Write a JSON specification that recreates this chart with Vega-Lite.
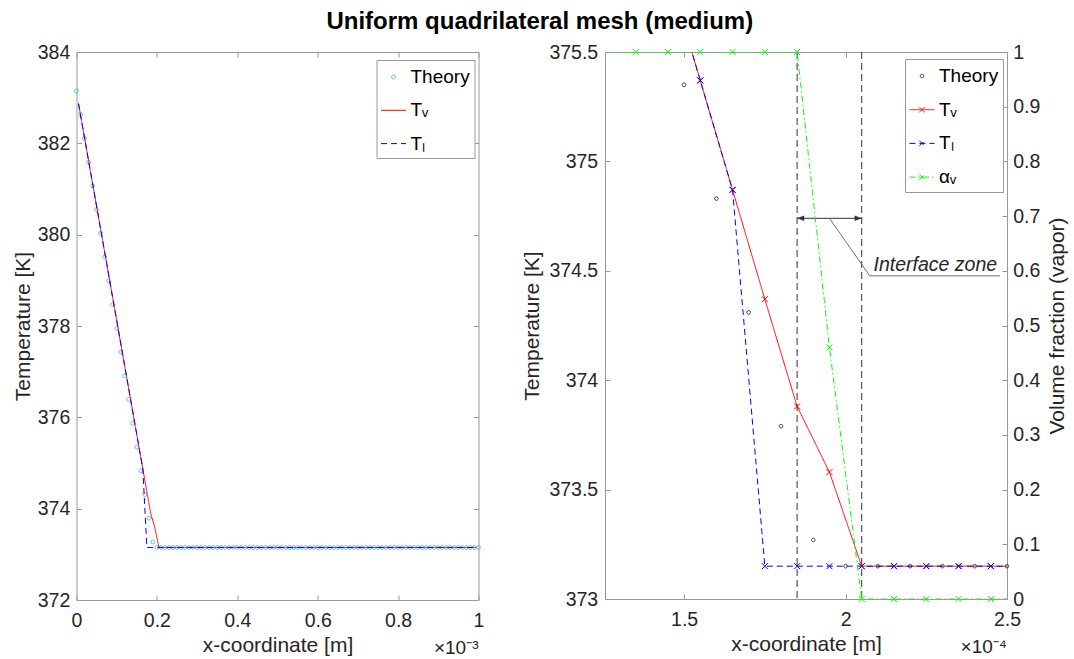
{
  "$schema": "https://vega.github.io/schema/vega-lite/v6.json",
  "padding": {"left": 11.5, "top": 9, "right": 4, "bottom": 4},
  "title": {"text": "Uniform quadrilateral mesh (medium)", "fontSize": 24, "fontWeight": "bold", "font": "Liberation Sans", "color": "#000000", "anchor": "middle", "offset": 8},
  "datasets": {
    "cells": [
      {"x": 0.5e-5, "Tv": 382.87, "Tl": 382.87, "av": 1},
      {"x": 1.5e-5, "Tv": 382.37, "Tl": 382.37, "av": 1},
      {"x": 2.5e-5, "Tv": 381.87, "Tl": 381.87, "av": 1},
      {"x": 3.5e-5, "Tv": 381.37, "Tl": 381.37, "av": 1},
      {"x": 4.5e-5, "Tv": 380.87, "Tl": 380.87, "av": 1},
      {"x": 5.5e-5, "Tv": 380.37, "Tl": 380.37, "av": 1},
      {"x": 6.5e-5, "Tv": 379.87, "Tl": 379.87, "av": 1},
      {"x": 7.5e-5, "Tv": 379.37, "Tl": 379.37, "av": 1},
      {"x": 8.5e-5, "Tv": 378.87, "Tl": 378.87, "av": 1},
      {"x": 9.5e-5, "Tv": 378.37, "Tl": 378.37, "av": 1},
      {"x": 10.5e-5, "Tv": 377.87, "Tl": 377.87, "av": 1},
      {"x": 11.5e-5, "Tv": 377.37, "Tl": 377.37, "av": 1},
      {"x": 12.5e-5, "Tv": 376.87, "Tl": 376.87, "av": 1},
      {"x": 13.5e-5, "Tv": 376.37, "Tl": 376.37, "av": 1},
      {"x": 14.5e-5, "Tv": 375.87, "Tl": 375.87, "av": 1},
      {"x": 15.5e-5, "Tv": 375.37, "Tl": 375.37, "av": 1},
      {"x": 16.5e-5, "Tv": 374.87, "Tl": 374.87, "av": 1},
      {"x": 17.5e-5, "Tv": 374.37, "Tl": 373.15, "av": 1},
      {"x": 18.5e-5, "Tv": 373.88, "Tl": 373.15, "av": 1},
      {"x": 19.5e-5, "Tv": 373.58, "Tl": 373.15, "av": 0.46},
      {"x": 20.5e-5, "Tv": 373.15, "Tl": 373.15, "av": 0},
      {"x": 21.5e-5, "Tv": 373.15, "Tl": 373.15, "av": 0},
      {"x": 22.5e-5, "Tv": 373.15, "Tl": 373.15, "av": 0},
      {"x": 23.5e-5, "Tv": 373.15, "Tl": 373.15, "av": 0},
      {"x": 24.5e-5, "Tv": 373.15, "Tl": 373.15, "av": 0},
      {"x": 25.5e-5, "Tv": 373.15, "Tl": 373.15, "av": 0},
      {"x": 26.5e-5, "Tv": 373.15, "Tl": 373.15, "av": 0},
      {"x": 27.5e-5, "Tv": 373.15, "Tl": 373.15, "av": 0},
      {"x": 28.5e-5, "Tv": 373.15, "Tl": 373.15, "av": 0},
      {"x": 29.5e-5, "Tv": 373.15, "Tl": 373.15, "av": 0},
      {"x": 30.5e-5, "Tv": 373.15, "Tl": 373.15, "av": 0},
      {"x": 31.5e-5, "Tv": 373.15, "Tl": 373.15, "av": 0},
      {"x": 32.5e-5, "Tv": 373.15, "Tl": 373.15, "av": 0},
      {"x": 33.5e-5, "Tv": 373.15, "Tl": 373.15, "av": 0},
      {"x": 34.5e-5, "Tv": 373.15, "Tl": 373.15, "av": 0},
      {"x": 35.5e-5, "Tv": 373.15, "Tl": 373.15, "av": 0},
      {"x": 36.5e-5, "Tv": 373.15, "Tl": 373.15, "av": 0},
      {"x": 37.5e-5, "Tv": 373.15, "Tl": 373.15, "av": 0},
      {"x": 38.5e-5, "Tv": 373.15, "Tl": 373.15, "av": 0},
      {"x": 39.5e-5, "Tv": 373.15, "Tl": 373.15, "av": 0},
      {"x": 40.5e-5, "Tv": 373.15, "Tl": 373.15, "av": 0},
      {"x": 41.5e-5, "Tv": 373.15, "Tl": 373.15, "av": 0},
      {"x": 42.5e-5, "Tv": 373.15, "Tl": 373.15, "av": 0},
      {"x": 43.5e-5, "Tv": 373.15, "Tl": 373.15, "av": 0},
      {"x": 44.5e-5, "Tv": 373.15, "Tl": 373.15, "av": 0},
      {"x": 45.5e-5, "Tv": 373.15, "Tl": 373.15, "av": 0},
      {"x": 46.5e-5, "Tv": 373.15, "Tl": 373.15, "av": 0},
      {"x": 47.5e-5, "Tv": 373.15, "Tl": 373.15, "av": 0},
      {"x": 48.5e-5, "Tv": 373.15, "Tl": 373.15, "av": 0},
      {"x": 49.5e-5, "Tv": 373.15, "Tl": 373.15, "av": 0},
      {"x": 50.5e-5, "Tv": 373.15, "Tl": 373.15, "av": 0},
      {"x": 51.5e-5, "Tv": 373.15, "Tl": 373.15, "av": 0},
      {"x": 52.5e-5, "Tv": 373.15, "Tl": 373.15, "av": 0},
      {"x": 53.5e-5, "Tv": 373.15, "Tl": 373.15, "av": 0},
      {"x": 54.5e-5, "Tv": 373.15, "Tl": 373.15, "av": 0},
      {"x": 55.5e-5, "Tv": 373.15, "Tl": 373.15, "av": 0},
      {"x": 56.5e-5, "Tv": 373.15, "Tl": 373.15, "av": 0},
      {"x": 57.5e-5, "Tv": 373.15, "Tl": 373.15, "av": 0},
      {"x": 58.5e-5, "Tv": 373.15, "Tl": 373.15, "av": 0},
      {"x": 59.5e-5, "Tv": 373.15, "Tl": 373.15, "av": 0},
      {"x": 60.5e-5, "Tv": 373.15, "Tl": 373.15, "av": 0},
      {"x": 61.5e-5, "Tv": 373.15, "Tl": 373.15, "av": 0},
      {"x": 62.5e-5, "Tv": 373.15, "Tl": 373.15, "av": 0},
      {"x": 63.5e-5, "Tv": 373.15, "Tl": 373.15, "av": 0},
      {"x": 64.5e-5, "Tv": 373.15, "Tl": 373.15, "av": 0},
      {"x": 65.5e-5, "Tv": 373.15, "Tl": 373.15, "av": 0},
      {"x": 66.5e-5, "Tv": 373.15, "Tl": 373.15, "av": 0},
      {"x": 67.5e-5, "Tv": 373.15, "Tl": 373.15, "av": 0},
      {"x": 68.5e-5, "Tv": 373.15, "Tl": 373.15, "av": 0},
      {"x": 69.5e-5, "Tv": 373.15, "Tl": 373.15, "av": 0},
      {"x": 70.5e-5, "Tv": 373.15, "Tl": 373.15, "av": 0},
      {"x": 71.5e-5, "Tv": 373.15, "Tl": 373.15, "av": 0},
      {"x": 72.5e-5, "Tv": 373.15, "Tl": 373.15, "av": 0},
      {"x": 73.5e-5, "Tv": 373.15, "Tl": 373.15, "av": 0},
      {"x": 74.5e-5, "Tv": 373.15, "Tl": 373.15, "av": 0},
      {"x": 75.5e-5, "Tv": 373.15, "Tl": 373.15, "av": 0},
      {"x": 76.5e-5, "Tv": 373.15, "Tl": 373.15, "av": 0},
      {"x": 77.5e-5, "Tv": 373.15, "Tl": 373.15, "av": 0},
      {"x": 78.5e-5, "Tv": 373.15, "Tl": 373.15, "av": 0},
      {"x": 79.5e-5, "Tv": 373.15, "Tl": 373.15, "av": 0},
      {"x": 80.5e-5, "Tv": 373.15, "Tl": 373.15, "av": 0},
      {"x": 81.5e-5, "Tv": 373.15, "Tl": 373.15, "av": 0},
      {"x": 82.5e-5, "Tv": 373.15, "Tl": 373.15, "av": 0},
      {"x": 83.5e-5, "Tv": 373.15, "Tl": 373.15, "av": 0},
      {"x": 84.5e-5, "Tv": 373.15, "Tl": 373.15, "av": 0},
      {"x": 85.5e-5, "Tv": 373.15, "Tl": 373.15, "av": 0},
      {"x": 86.5e-5, "Tv": 373.15, "Tl": 373.15, "av": 0},
      {"x": 87.5e-5, "Tv": 373.15, "Tl": 373.15, "av": 0},
      {"x": 88.5e-5, "Tv": 373.15, "Tl": 373.15, "av": 0},
      {"x": 89.5e-5, "Tv": 373.15, "Tl": 373.15, "av": 0},
      {"x": 90.5e-5, "Tv": 373.15, "Tl": 373.15, "av": 0},
      {"x": 91.5e-5, "Tv": 373.15, "Tl": 373.15, "av": 0},
      {"x": 92.5e-5, "Tv": 373.15, "Tl": 373.15, "av": 0},
      {"x": 93.5e-5, "Tv": 373.15, "Tl": 373.15, "av": 0},
      {"x": 94.5e-5, "Tv": 373.15, "Tl": 373.15, "av": 0},
      {"x": 95.5e-5, "Tv": 373.15, "Tl": 373.15, "av": 0},
      {"x": 96.5e-5, "Tv": 373.15, "Tl": 373.15, "av": 0},
      {"x": 97.5e-5, "Tv": 373.15, "Tl": 373.15, "av": 0},
      {"x": 98.5e-5, "Tv": 373.15, "Tl": 373.15, "av": 0},
      {"x": 99.5e-5, "Tv": 373.15, "Tl": 373.15, "av": 0}
    ],
    "theory": [
      {"x": 0, "Theory": 383.15}, {"x": 1e-5, "Theory": 382.63}, {"x": 2e-5, "Theory": 382.11}, {"x": 3e-5, "Theory": 381.59},
      {"x": 4e-5, "Theory": 381.07}, {"x": 5e-5, "Theory": 380.55}, {"x": 6e-5, "Theory": 380.03}, {"x": 7e-5, "Theory": 379.51},
      {"x": 8e-5, "Theory": 378.99}, {"x": 9e-5, "Theory": 378.47}, {"x": 10e-5, "Theory": 377.95}, {"x": 11e-5, "Theory": 377.43},
      {"x": 12e-5, "Theory": 376.91}, {"x": 13e-5, "Theory": 376.39}, {"x": 14e-5, "Theory": 375.87}, {"x": 15e-5, "Theory": 375.35},
      {"x": 16e-5, "Theory": 374.83}, {"x": 17e-5, "Theory": 374.31}, {"x": 18e-5, "Theory": 373.79}, {"x": 19e-5, "Theory": 373.27},
      {"x": 20e-5, "Theory": 373.15}, {"x": 21e-5, "Theory": 373.15}, {"x": 22e-5, "Theory": 373.15}, {"x": 23e-5, "Theory": 373.15},
      {"x": 24e-5, "Theory": 373.15}, {"x": 25e-5, "Theory": 373.15}, {"x": 26e-5, "Theory": 373.15}, {"x": 27e-5, "Theory": 373.15},
      {"x": 28e-5, "Theory": 373.15}, {"x": 29e-5, "Theory": 373.15}, {"x": 30e-5, "Theory": 373.15}, {"x": 31e-5, "Theory": 373.15},
      {"x": 32e-5, "Theory": 373.15}, {"x": 33e-5, "Theory": 373.15}, {"x": 34e-5, "Theory": 373.15}, {"x": 35e-5, "Theory": 373.15},
      {"x": 36e-5, "Theory": 373.15}, {"x": 37e-5, "Theory": 373.15}, {"x": 38e-5, "Theory": 373.15}, {"x": 39e-5, "Theory": 373.15},
      {"x": 40e-5, "Theory": 373.15}, {"x": 41e-5, "Theory": 373.15}, {"x": 42e-5, "Theory": 373.15}, {"x": 43e-5, "Theory": 373.15},
      {"x": 44e-5, "Theory": 373.15}, {"x": 45e-5, "Theory": 373.15}, {"x": 46e-5, "Theory": 373.15}, {"x": 47e-5, "Theory": 373.15},
      {"x": 48e-5, "Theory": 373.15}, {"x": 49e-5, "Theory": 373.15}, {"x": 50e-5, "Theory": 373.15}, {"x": 51e-5, "Theory": 373.15},
      {"x": 52e-5, "Theory": 373.15}, {"x": 53e-5, "Theory": 373.15}, {"x": 54e-5, "Theory": 373.15}, {"x": 55e-5, "Theory": 373.15},
      {"x": 56e-5, "Theory": 373.15}, {"x": 57e-5, "Theory": 373.15}, {"x": 58e-5, "Theory": 373.15}, {"x": 59e-5, "Theory": 373.15},
      {"x": 60e-5, "Theory": 373.15}, {"x": 61e-5, "Theory": 373.15}, {"x": 62e-5, "Theory": 373.15}, {"x": 63e-5, "Theory": 373.15},
      {"x": 64e-5, "Theory": 373.15}, {"x": 65e-5, "Theory": 373.15}, {"x": 66e-5, "Theory": 373.15}, {"x": 67e-5, "Theory": 373.15},
      {"x": 68e-5, "Theory": 373.15}, {"x": 69e-5, "Theory": 373.15}, {"x": 70e-5, "Theory": 373.15}, {"x": 71e-5, "Theory": 373.15},
      {"x": 72e-5, "Theory": 373.15}, {"x": 73e-5, "Theory": 373.15}, {"x": 74e-5, "Theory": 373.15}, {"x": 75e-5, "Theory": 373.15},
      {"x": 76e-5, "Theory": 373.15}, {"x": 77e-5, "Theory": 373.15}, {"x": 78e-5, "Theory": 373.15}, {"x": 79e-5, "Theory": 373.15},
      {"x": 80e-5, "Theory": 373.15}, {"x": 81e-5, "Theory": 373.15}, {"x": 82e-5, "Theory": 373.15}, {"x": 83e-5, "Theory": 373.15},
      {"x": 84e-5, "Theory": 373.15}, {"x": 85e-5, "Theory": 373.15}, {"x": 86e-5, "Theory": 373.15}, {"x": 87e-5, "Theory": 373.15},
      {"x": 88e-5, "Theory": 373.15}, {"x": 89e-5, "Theory": 373.15}, {"x": 90e-5, "Theory": 373.15}, {"x": 91e-5, "Theory": 373.15},
      {"x": 92e-5, "Theory": 373.15}, {"x": 93e-5, "Theory": 373.15}, {"x": 94e-5, "Theory": 373.15}, {"x": 95e-5, "Theory": 373.15},
      {"x": 96e-5, "Theory": 373.15}, {"x": 97e-5, "Theory": 373.15}, {"x": 98e-5, "Theory": 373.15}, {"x": 99e-5, "Theory": 373.15},
      {"x": 100e-5, "Theory": 373.15}
    ]
  },
  "spacing": 36.5,
  "resolve": {
    "scale": {"color": "independent", "strokeDash": "independent", "shape": "independent"},
    "legend": {"color": "independent", "strokeDash": "independent", "shape": "independent"}
  },
  "hconcat": [
    {
      "width": 402,
      "height": 548,
      "layer": [
        {
          "data": {"name": "theory"},
          "transform": [{"fold": ["Theory"], "as": ["series", "T"]}],
          "mark": {"type": "point", "size": 625, "filled": false, "strokeWidth": 1, "opacity": 1},
          "encoding": {
            "x": {"field": "x", "type": "quantitative", "scale": {"domain": [0, 0.001], "nice": false, "zero": false},
              "axis": {"orient": "bottom", "values": [0, 0.0002, 0.0004, 0.0006, 0.0008, 0.001], "labelExpr": "format(datum.value*1000, '~g')", "labelPadding": 16, "title": "x-coordinate [m]", "titlePadding": 5}},
            "y": {"field": "T", "type": "quantitative", "scale": {"domain": [372, 384], "nice": false, "zero": false},
              "axis": {"orient": "left", "values": [372, 374, 376, 378, 380, 382, 384], "format": "~g", "labelPadding": 11.7, "title": "Temperature [K]", "titlePadding": 4}},
            "color": {
              "field": "series", "type": "nominal",
              "scale": {"domain": ["Theory", "Tv", "Tl"], "range": ["#4DBEEE", "#ff0000", "#0000ff"]},
              "legend": {
                "orient": "none", "legendX": 300, "legendY": 8, "title": null,
                "labelExpr": "datum.value === 'Tv' ? 'Tᵥ' : datum.value === 'Tl' ? 'Tₗ' : datum.label",
                "rowPadding": 10.3
              }
            },
            "shape": {
              "field": "series", "type": "nominal",
              "scale": {"domain": ["Theory", "Tv", "Tl"], "range": ["M0.16,0L0.113,0.113L0,0.16L-0.113,0.113L-0.16,0L-0.113,-0.113L0,-0.16L0.113,-0.113Z", "M-1,0L1,0", "M-1,0L1,0"]}
            },
            "strokeDash": {
              "field": "series", "type": "nominal",
              "scale": {"domain": ["Theory", "Tv", "Tl"], "range": [[1, 0], [1, 0], [6, 4]]}
            }
          }
        },
        {
          "data": {"name": "cells"},
          "transform": [{"fold": ["Tv", "Tl"], "as": ["series", "T"]}],
          "mark": {"type": "line", "strokeWidth": 1},
          "encoding": {
            "x": {"field": "x", "type": "quantitative", "axis": {"orient": "top", "values": [0, 0.0002, 0.0004, 0.0006, 0.0008, 0.001], "labels": false, "title": null}},
            "y": {"field": "T", "type": "quantitative", "axis": {"orient": "right", "values": [372, 374, 376, 378, 380, 382, 384], "labels": false, "title": null}},
            "color": {"field": "series", "type": "nominal"},
            "strokeDash": {"field": "series", "type": "nominal"}
          }
        },
        {
          "data": {"values": [{"label": "×10⁻³"}]},
          "mark": {"type": "text", "align": "right", "baseline": "middle", "dy": 48, "fontSize": 19, "color": "#262626", "font": "Liberation Sans"},
          "encoding": {
            "x": {"datum": 0.001, "type": "quantitative", "axis": null},
            "y": {"datum": 372, "type": "quantitative", "axis": null},
            "text": {"field": "label"}
          }
        }
      ],
      "resolve": {"axis": {"x": "independent", "y": "independent"}}
    },
    {
      "width": 402,
      "height": 547,
      "layer": [
        {
          "layer": [
            {
              "data": {"values": [{"x": 1.85e-4}, {"x": 2.05e-4}]},
              "mark": {"type": "rule", "color": "#333333", "strokeWidth": 1, "strokeDash": [7, 4]},
              "encoding": {"x": {"field": "x", "type": "quantitative"}}
            },
            {
              "data": {"name": "theory"},
              "transform": [{"filter": "datum.x >= 1.25e-4 && datum.x <= 2.5e-4 && datum.Theory <= 375.5"}, {"fold": ["Theory"], "as": ["series", "T"]}],
              "mark": {"type": "point", "size": 625, "filled": false, "strokeWidth": 1, "opacity": 1},
              "encoding": {
                "x": {"field": "x", "type": "quantitative"},
                "y": {"field": "T", "type": "quantitative"},
                "color": {
                  "field": "series", "type": "nominal",
                  "scale": {"domain": ["Theory", "Tv", "Tl", "av"], "range": ["#404040", "#ff0000", "#0000ff", "#00ff00"]},
                  "legend": {
                    "orient": "none", "legendX": 300, "legendY": 7, "title": null,
                    "labelExpr": "datum.value === 'Tv' ? 'Tᵥ' : datum.value === 'Tl' ? 'Tₗ' : datum.value === 'av' ? 'αᵥ' : datum.label",
                    "rowPadding": 10.7
                  }
                },
                "shape": {
                  "field": "series", "type": "nominal",
                  "scale": {"domain": ["Theory", "Tv", "Tl", "av"], "range": ["M0.15,0L0.106,0.106L0,0.15L-0.106,0.106L-0.15,0L-0.106,-0.106L0,-0.15L0.106,-0.106Z", "M-1,0L1,0M-0.22,-0.22L0.22,0.22M-0.22,0.22L0.22,-0.22", "M-1,0L1,0M-0.22,-0.22L0.22,0.22M-0.22,0.22L0.22,-0.22", "M-1,0L1,0M-0.22,-0.22L0.22,0.22M-0.22,0.22L0.22,-0.22"]}
                },
                "strokeDash": {
                  "field": "series", "type": "nominal",
                  "scale": {"domain": ["Theory", "Tv", "Tl", "av"], "range": [[1, 0], [1, 0], [6, 4], [6, 3, 1.5, 3]]}
                }
              }
            },
            {
              "data": {"name": "cells"},
              "transform": [{"filter": "datum.x >= 1.1e-4 && datum.x <= 2.6e-4"}, {"fold": ["Tv", "Tl"], "as": ["series", "T"]}],
              "mark": {"type": "line", "strokeWidth": 1, "clip": true},
              "encoding": {
                "x": {"field": "x", "type": "quantitative", "scale": {"domain": [1.255e-4, 2.5e-4], "nice": false, "zero": false},
                  "axis": {"orient": "bottom", "values": [1.5e-4, 2e-4, 2.5e-4], "labelExpr": "format(datum.value*10000, '~g')", "labelPadding": 16, "title": "x-coordinate [m]", "titlePadding": 5}},
                "y": {"field": "T", "type": "quantitative", "scale": {"domain": [373, 375.5], "nice": false, "zero": false},
                  "axis": {"orient": "left", "values": [373, 373.5, 374, 374.5, 375, 375.5], "format": "~g", "labelPadding": 12.3, "title": "Temperature [K]", "titlePadding": 6}},
                "color": {"field": "series", "type": "nominal"},
                "strokeDash": {"field": "series", "type": "nominal"}
              }
            },
            {
              "data": {"name": "cells"},
              "transform": [{"filter": "datum.x >= 1.255e-4 && datum.x <= 2.5e-4"}, {"fold": ["Tv", "Tl"], "as": ["series", "T"]}, {"filter": "datum.T <= 375.5"}],
              "mark": {"type": "point", "shape": "M-1,-1L1,1M-1,1L1,-1", "size": 36, "filled": false, "strokeWidth": 1, "opacity": 1},
              "encoding": {
                "x": {"field": "x", "type": "quantitative"},
                "y": {"field": "T", "type": "quantitative"},
                "color": {"field": "series", "type": "nominal"}
              }
            },
            {
              "data": {"values": [{"x": 1.85e-4, "x2": 2.05e-4, "T": 374.74}]},
              "mark": {"type": "rule", "color": "#333333", "strokeWidth": 1},
              "encoding": {
                "x": {"field": "x", "type": "quantitative"},
                "x2": {"field": "x2"},
                "y": {"field": "T", "type": "quantitative"}
              }
            },
            {
              "data": {"values": [{"x": 1.85e-4, "T": 374.74}]},
              "mark": {"type": "point", "shape": "M0,0L2,-0.8L2,0.8Z", "size": 50, "filled": true, "color": "#333333", "opacity": 1},
              "encoding": {
                "x": {"field": "x", "type": "quantitative"},
                "y": {"field": "T", "type": "quantitative"}
              }
            },
            {
              "data": {"values": [{"x": 2.05e-4, "T": 374.74}]},
              "mark": {"type": "point", "shape": "M0,0L-2,-0.8L-2,0.8Z", "size": 50, "filled": true, "color": "#333333", "opacity": 1},
              "encoding": {
                "x": {"field": "x", "type": "quantitative"},
                "y": {"field": "T", "type": "quantitative"}
              }
            },
            {
              "data": {"values": [{"x": 1.95e-4, "T": 374.74}, {"x": 2.075e-4, "T": 374.477}, {"x": 2.478e-4, "T": 374.477}]},
              "mark": {"type": "line", "color": "#707070", "strokeWidth": 1},
              "encoding": {
                "x": {"field": "x", "type": "quantitative"},
                "y": {"field": "T", "type": "quantitative"}
              }
            },
            {
              "data": {"values": [{"x": 2.278e-4, "T": 374.5, "label": "Interface zone"}]},
              "mark": {"type": "text", "font": "Liberation Sans", "fontStyle": "italic", "fontSize": 19.5, "color": "#262626", "align": "center", "baseline": "alphabetic"},
              "encoding": {
                "x": {"field": "x", "type": "quantitative"},
                "y": {"field": "T", "type": "quantitative"},
                "text": {"field": "label"}
              }
            },
            {
              "data": {"values": [{"label": "×10⁻⁴"}]},
              "mark": {"type": "text", "align": "right", "baseline": "middle", "dy": 48, "fontSize": 19, "color": "#262626", "font": "Liberation Sans"},
              "encoding": {
                "x": {"datum": 2.5e-4, "type": "quantitative"},
                "y": {"datum": 373, "type": "quantitative"},
                "text": {"field": "label"}
              }
            }
          ]
        },
        {
          "layer": [
            {
              "data": {"name": "cells"},
              "transform": [{"filter": "datum.x >= 1.1e-4 && datum.x <= 2.6e-4"}],
              "mark": {"type": "line", "color": "#00ff00", "strokeWidth": 1, "strokeDash": [6, 3, 1.5, 3], "clip": true},
              "encoding": {
                "x": {"field": "x", "type": "quantitative", "axis": {"orient": "top", "values": [1.5e-4, 2e-4, 2.5e-4], "labels": false, "title": null}},
                "y": {"field": "av", "type": "quantitative", "scale": {"domain": [0, 1], "nice": false, "zero": false},
                  "axis": {"orient": "right", "values": [0, 0.1, 0.2, 0.3, 0.4, 0.5, 0.6, 0.7, 0.8, 0.9, 1], "format": "~g", "labelPadding": 10.7, "title": "Volume fraction (vapor)", "titleAngle": 270, "titleBaseline": "top", "titlePadding": 6.5}}
              }
            },
            {
              "data": {"name": "cells"},
              "transform": [{"filter": "datum.x >= 1.255e-4 && datum.x <= 2.5e-4"}],
              "mark": {"type": "point", "shape": "M-1,-1L1,1M-1,1L1,-1", "size": 36, "filled": false, "color": "#00ff00", "strokeWidth": 1, "opacity": 1},
              "encoding": {
                "x": {"field": "x", "type": "quantitative"},
                "y": {"field": "av", "type": "quantitative"}
              }
            }
          ]
        }
      ],
      "resolve": {"scale": {"y": "independent"}, "axis": {"x": "independent"}}
    }
  ],
  "config": {
    "font": "Liberation Sans",
    "view": {"stroke": "#999999", "strokeWidth": 1},
    "axis": {
      "grid": false, "domain": false, "tickColor": "#999999", "tickSize": -5, "tickWidth": 1,
      "labelFont": "Liberation Sans", "labelFontSize": 19.5, "labelColor": "#262626",
      "titleFont": "Liberation Sans", "titleFontSize": 21, "titleFontWeight": "normal", "titleColor": "#262626",
      "labelFlush": false, "labelOverlap": false
    },
    "legend": {
      "strokeColor": "#999999", "fillColor": "#ffffff", "padding": 4,
      "labelFont": "Liberation Sans", "labelFontSize": 19, "labelColor": "#000000",
      "symbolSize": 625, "symbolStrokeWidth": 1, "labelOffset": 4
    }
  }
}
